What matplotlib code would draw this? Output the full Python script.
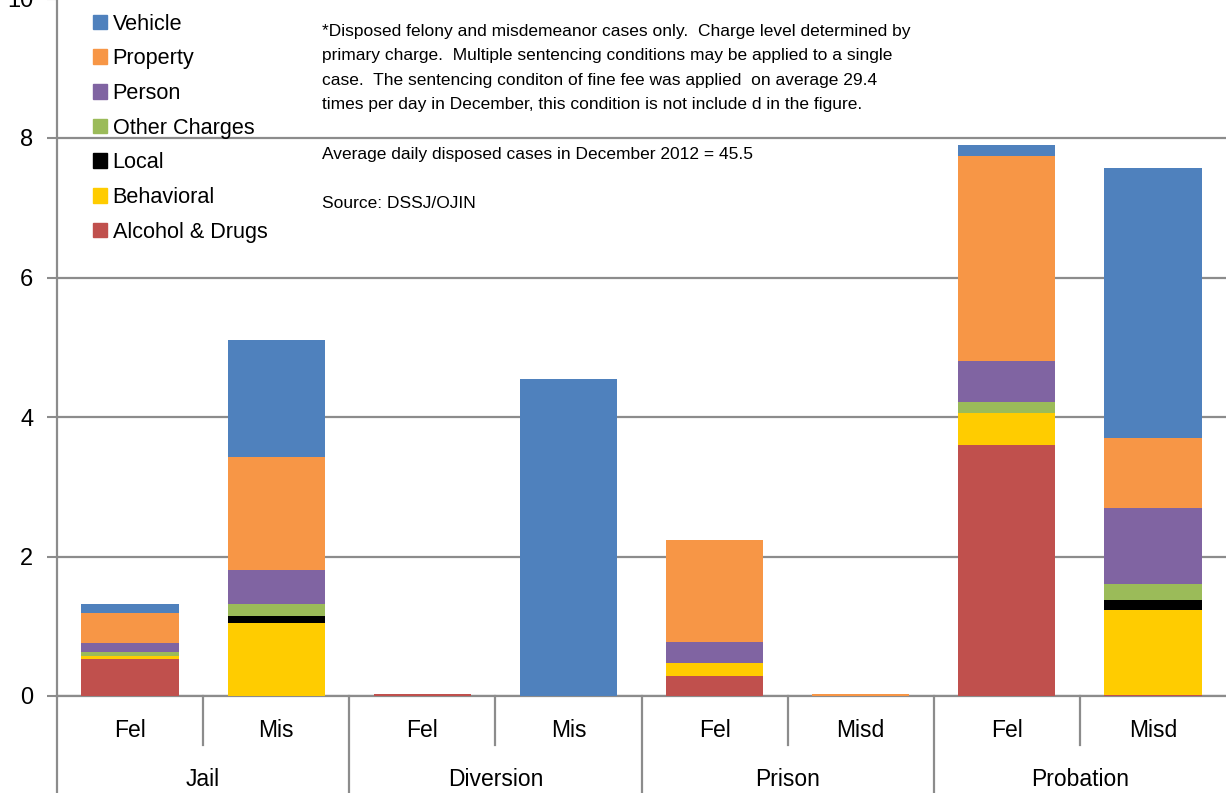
import numpy as np
import matplotlib.pyplot as plt
from matplotlib import font_manager
from matplotlib.patches import Patch

# ===================== Data =====================

sub_labels = ["Fel", "Mis", "Fel", "Mis", "Fel", "Misd", "Fel", "Misd"]
group_labels = ["Jail", "Diversion", "Prison", "Probation"]

# stacked bottom -> top
alcohol = [0.535, 0.00, 0.03, 0.00, 0.28, 0.00, 3.60, 0.02]
behavioral = [0.04, 1.05, 0.00, 0.00, 0.20, 0.00, 0.455, 1.22]
local = [0.00, 0.10, 0.00, 0.00, 0.00, 0.00, 0.00, 0.133]
other = [0.06, 0.17, 0.00, 0.00, 0.00, 0.00, 0.16, 0.234]
person = [0.13, 0.49, 0.00, 0.00, 0.29, 0.00, 0.585, 1.093]
prop = [0.43, 1.615, 0.00, 0.00, 1.46, 0.03, 2.94, 1.00]
vehicle = [0.13, 1.68, 0.00, 4.545, 0.00, 0.00, 0.155, 3.87]

series = [
    ("Alcohol & Drugs", alcohol, "#C0504D"),
    ("Behavioral", behavioral, "#FFCC00"),
    ("Local", local, "#000000"),
    ("Other Charges", other, "#9BBB59"),
    ("Person", person, "#8064A2"),
    ("Property", prop, "#F79646"),
    ("Vehicle", vehicle, "#4F81BD"),
]

note_text = ("*Disposed felony and misdemeanor cases only.  Charge level determined by\n"
             "primary charge.  Multiple sentencing conditions may be applied to a single\n"
             "case.  The sentencing conditon of fine fee was applied  on average 29.4\n"
             "times per day in December, this condition is not include d in the figure.")
avg_text = "Average daily disposed cases in December 2012 = 45.5"
source_text = "Source: DSSJ/OJIN"

# ===================== Fonts =====================

installed = {f.name for f in font_manager.fontManager.ttflist}
fam = "Liberation Sans Narrow" if "Liberation Sans Narrow" in installed else "Liberation Sans"
plt.rcParams["font.family"] = [fam, "DejaVu Sans"]

# ===================== Plot =====================

W, H = 1226, 793
fig = plt.figure(figsize=(W / 100, H / 100), dpi=100)
ax = fig.add_axes([57 / W, (H - 696) / H, 1 - 57 / W, 697.5 / H])

grid_c = "#8C8C8C"
x = np.arange(len(sub_labels))
bottom = np.zeros(len(x))
for name, vals, col in series:
    vals = np.array(vals)
    ax.bar(x, vals, 0.665, bottom=bottom, color=col, label=name, zorder=3)
    bottom += vals

ax.set_xlim(-0.5, 7.5)
ax.set_ylim(0, 10)
ax.set_yticks([0, 2, 4, 6, 8, 10])
ax.grid(True, axis="y", color=grid_c, linewidth=1.6, zorder=0)
ax.tick_params(axis="y", length=7, width=1.5, color=grid_c, labelsize=17, pad=10)
ax.set_xticks([])

for s in ["top", "right"]:
    ax.spines[s].set_visible(False)
ax.spines["left"].set_color(grid_c)
ax.spines["left"].set_linewidth(1.6)
ax.spines["bottom"].set_color(grid_c)
ax.spines["bottom"].set_linewidth(1.6)

# category tick separators
trans = ax.get_xaxis_transform()
for sx in [0.5, 2.5, 4.5, 6.5]:
    ax.plot([sx, sx], [0, -0.070], transform=trans, color=grid_c, lw=1.6, clip_on=False)
for gx in [-0.5, 1.5, 3.5, 5.5]:
    ax.plot([gx, gx], [0, -0.15], transform=trans, color=grid_c, lw=1.6, clip_on=False)

for xi, lab in zip(x, sub_labels):
    ax.text(xi, -0.050, lab, transform=trans, ha="center", va="center", fontsize=16.5)
for gi, lab in enumerate(group_labels):
    ax.text(2 * gi + 0.5, -0.120, lab, transform=trans, ha="center", va="center", fontsize=16.5)

# legend (Vehicle on top)
handles = [Patch(color=c, label=n) for n, v, c in series][::-1]
ax.legend(handles=handles, loc="upper left", bbox_to_anchor=(0.018, 1.0),
          frameon=False, fontsize=15.6, handlelength=0.65, handleheight=0.65,
          handletextpad=0.25, labelspacing=0.63, borderaxespad=0.3)

# notes
fig.text(322 / W, 1 - 24 / H, note_text, ha="left", va="top", fontsize=12.5, linespacing=1.78)
fig.text(322 / W, 1 - 155 / H, avg_text, ha="left", va="center", fontsize=12.5)
fig.text(322 / W, 1 - 203 / H, source_text, ha="left", va="center", fontsize=12.5)

fig.savefig("out.png", dpi=100)
